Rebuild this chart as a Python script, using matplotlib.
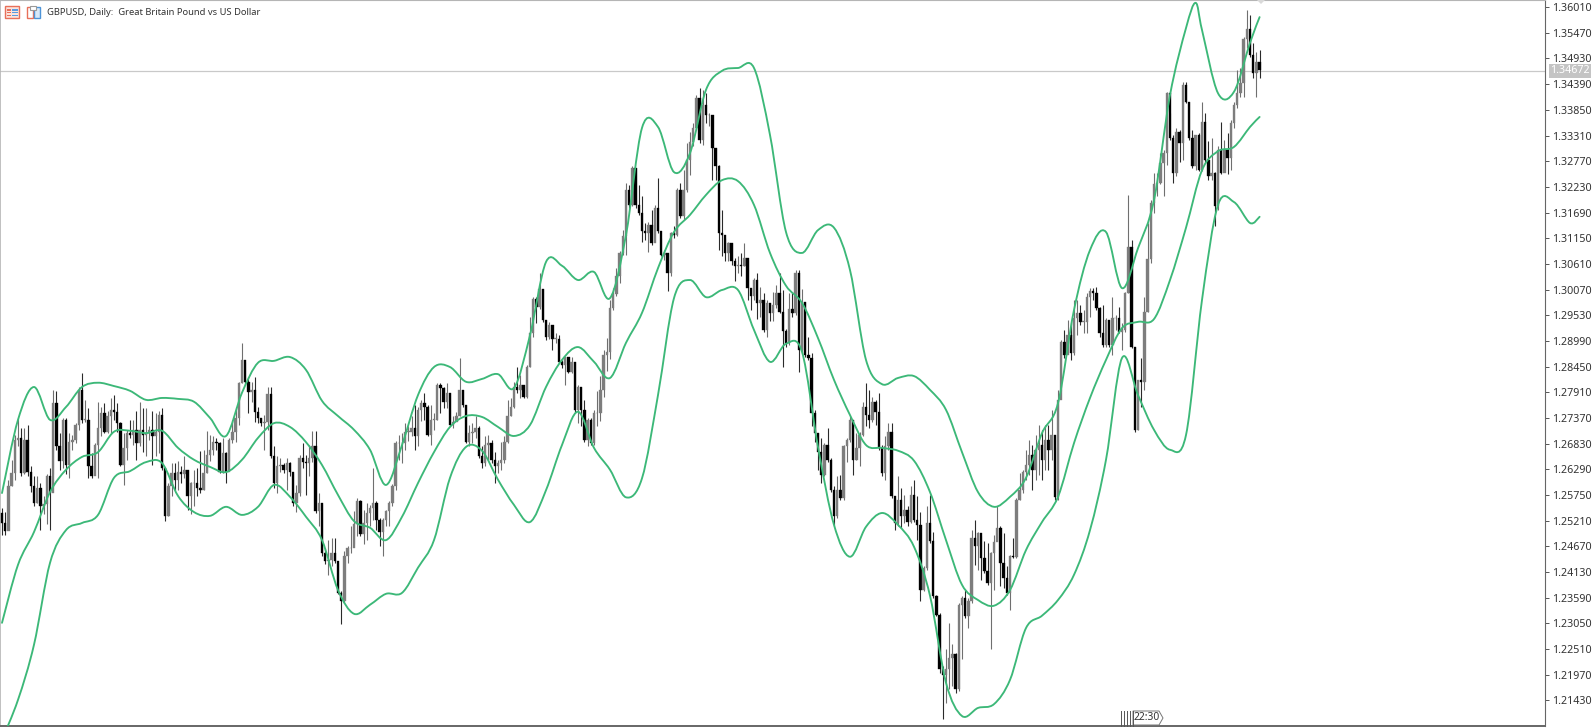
import matplotlib
matplotlib.use("Agg")
import matplotlib.pyplot as plt
from matplotlib.patches import Rectangle, Polygon, PathPatch
from matplotlib.path import Path

W, H = 1592, 728
title = "GBPUSD, Daily:  Great Britain Pound vs US Dollar"
last_price = 1.34672
tick_prices = [1.36010, 1.35470, 1.34930, 1.34390, 1.33850, 1.33310, 1.32770, 1.32230, 1.31690, 1.31150,
               1.30610, 1.30070, 1.29530, 1.28990, 1.28450, 1.27910, 1.27370, 1.26830, 1.26290, 1.25750,
               1.25210, 1.24670, 1.24130, 1.23590, 1.23050, 1.22510, 1.21970, 1.21430]

# values in 1/10000 price units, one per daily candle
closes = [12516,12499,12593,12621,12691,12695,12621,12691,12624,12593,12558,12590,12551,12555,12614,12579,12768,12677,12646,12733,
12638,12687,12691,12722,12796,12733,12733,12635,12614,12680,12716,12747,12708,12740,12754,12750,12726,12638,12673,12705,
12701,12712,12684,12712,12701,12705,12712,12698,12708,12743,12631,12530,12593,12621,12607,12624,12618,12628,12572,12600,
12600,12590,12586,12621,12660,12670,12687,12684,12624,12663,12624,12691,12708,12736,12810,12859,12813,12792,12796,12750,
12736,12726,12729,12788,12656,12600,12635,12639,12628,12642,12624,12558,12579,12652,12645,12642,12652,12677,12541,12558,
12453,12436,12439,12453,12436,12369,12352,12446,12463,12463,12513,12562,12492,12516,12537,12547,12558,12523,12498,12523,
12541,12558,12593,12684,12684,12684,12708,12708,12716,12698,12754,12768,12761,12701,12733,12733,12806,12799,12771,12789,
12722,12729,12740,12796,12764,12687,12705,12708,12715,12656,12642,12680,12684,12649,12635,12642,12649,12687,12740,12761,
12803,12796,12806,12782,12845,12915,12988,12971,13009,12943,12908,12932,12904,12904,12855,12848,12866,12834,12855,12754,
12803,12754,12691,12733,12684,12747,12747,12796,12869,12876,12968,12997,13035,13084,13119,13217,13185,13262,13185,13168,
13130,13126,13143,13105,13178,13130,13080,13084,13042,13126,13122,13217,13161,13217,13280,13318,13346,13409,13322,13395,
13374,13374,13304,13266,13126,13122,13084,13105,13066,13056,13059,13056,13073,13010,12993,13028,12979,12985,12922,12978,
12957,12974,12999,12960,12919,12894,12967,12957,13041,12880,12981,12870,12863,12747,12705,12666,12617,12680,12649,12586,
12530,12586,12568,12677,12691,12733,12649,12673,12701,12761,12743,12733,12771,12750,12673,12621,12677,12708,12572,12516,
12565,12530,12544,12519,12575,12523,12512,12376,12422,12516,12478,12362,12323,12208,12197,12208,12233,12240,12166,12344,
12358,12320,12351,12485,12467,12495,12442,12415,12390,12453,12477,12505,12432,12400,12369,12446,12445,12565,12586,12624,
12638,12659,12628,12670,12680,12649,12691,12670,12701,12571,12775,12897,12870,12912,12873,12947,12957,12939,12939,12992,
13003,12999,12968,12915,12890,12943,12890,12947,12947,12918,12922,12999,13097,12887,12712,12817,12813,12960,13072,13188,
13228,13231,13273,13294,13420,13325,13252,13339,13315,13438,13402,13325,13266,13332,13259,13360,13280,13245,13252,13182,
13301,13252,13301,13284,13357,13395,13420,13441,13535,13556,13500,13462,13486,13469]
highs = [12547,12540,12607,12649,12702,12736,12716,12716,12723,12635,12614,12614,12600,12572,12618,12632,12796,12793,12705,12736,
12736,12705,12702,12726,12803,12831,12775,12757,12663,12684,12771,12761,12768,12751,12778,12785,12768,12729,12705,12712,
12733,12733,12751,12771,12757,12757,12719,12751,12747,12751,12757,12631,12600,12642,12642,12646,12635,12656,12628,12603,
12628,12632,12667,12670,12709,12702,12698,12695,12687,12695,12666,12695,12733,12761,12813,12894,12855,12824,12813,12824,
12761,12736,12743,12803,12803,12677,12656,12652,12642,12652,12645,12621,12596,12660,12684,12660,12680,12709,12709,12579,
12555,12463,12481,12484,12484,12432,12373,12457,12467,12509,12541,12569,12565,12544,12558,12554,12632,12562,12526,12526,
12544,12562,12597,12688,12702,12705,12726,12719,12740,12765,12761,12775,12789,12764,12764,12747,12810,12810,12803,12810,
12789,12740,12750,12862,12796,12764,12722,12726,12740,12719,12677,12698,12701,12691,12666,12649,12687,12698,12775,12778,
12813,12845,12827,12806,12848,12950,12992,12992,13041,13009,12943,12939,12932,12915,12911,12859,12866,12866,12866,12855,
12806,12803,12775,12737,12737,12754,12793,12825,12880,12905,12985,13010,13052,13088,13133,13231,13227,13266,13262,13227,
13203,13147,13150,13175,13185,13241,13115,13091,13084,13129,13140,13220,13231,13259,13315,13339,13357,13416,13430,13427,
13420,13378,13374,13304,13270,13175,13115,13108,13105,13073,13077,13084,13105,13070,13010,13032,13042,13013,12999,12985,
12978,13002,13016,13041,13006,12925,12999,12999,13048,13048,13009,12981,12908,12873,12754,12705,12694,12684,12715,12652,
12593,12614,12617,12680,12694,12740,12722,12705,12708,12771,12810,12796,12782,12775,12789,12680,12698,12726,12726,12568,
12614,12589,12575,12551,12593,12607,12572,12540,12425,12551,12575,12498,12365,12327,12215,12250,12306,12261,12243,12348,
12362,12376,12358,12502,12523,12498,12488,12478,12474,12456,12491,12551,12509,12495,12425,12449,12484,12569,12621,12628,
12670,12691,12680,12701,12722,12712,12722,12722,12754,12676,12796,12901,12922,12943,12936,12985,12985,12974,12964,12999,
13010,13010,13013,12971,12975,12947,12943,12992,12954,12971,12936,13002,13206,13111,12887,12817,12862,12992,13146,13195,
13252,13252,13294,13301,13423,13378,13332,13346,13343,13444,13444,13402,13343,13332,13336,13402,13378,13319,13325,13255,
13308,13360,13322,13336,13364,13402,13469,13472,13539,13595,13584,13525,13507,13511]
lows = [12491,12491,12523,12593,12607,12677,12614,12618,12614,12582,12551,12558,12502,12534,12513,12502,12618,12670,12628,12631,
12618,12611,12670,12684,12712,12726,12729,12611,12611,12656,12611,12698,12705,12705,12705,12733,12708,12635,12596,12649,
12694,12680,12649,12677,12666,12656,12691,12638,12656,12663,12628,12520,12530,12572,12586,12586,12600,12611,12544,12534,
12551,12572,12579,12586,12621,12646,12660,12670,12621,12621,12600,12646,12684,12687,12722,12810,12806,12747,12771,12729,
12726,12719,12670,12712,12652,12589,12579,12624,12621,12586,12614,12551,12540,12572,12631,12575,12614,12645,12537,12509,
12446,12429,12407,12425,12432,12366,12303,12348,12432,12453,12471,12488,12488,12471,12481,12509,12523,12502,12467,12446,
12509,12509,12551,12586,12649,12642,12670,12688,12698,12670,12677,12730,12733,12698,12680,12712,12733,12747,12757,12757,
12719,12715,12733,12740,12761,12684,12677,12684,12694,12652,12631,12635,12649,12642,12600,12621,12628,12642,12684,12740,
12757,12789,12778,12778,12778,12845,12908,12936,12967,12939,12901,12904,12880,12894,12852,12841,12806,12831,12831,12747,
12726,12719,12687,12677,12680,12680,12719,12730,12780,12835,12860,12965,12993,13021,13080,13080,13178,13182,13178,13164,
13108,13112,13087,13101,13130,13126,13077,13070,13003,13035,13115,13119,13157,13154,13213,13248,13308,13343,13315,13311,
13357,13350,13238,13238,13091,13077,13066,13066,13059,13024,13042,13035,13056,12986,12965,12986,12944,12950,12918,12908,
12940,12940,12968,12957,12845,12887,12890,12950,12953,12834,12873,12866,12859,12719,12687,12628,12600,12614,12645,12582,
12509,12526,12565,12565,12645,12687,12617,12649,12635,12698,12719,12715,12729,12722,12670,12614,12607,12670,12568,12502,
12509,12505,12516,12509,12516,12519,12481,12352,12373,12418,12474,12358,12320,12201,12103,12138,12166,12173,12159,12162,
12229,12317,12295,12348,12428,12418,12397,12411,12386,12250,12376,12481,12383,12380,12365,12334,12442,12442,12565,12579,
12607,12617,12586,12607,12617,12607,12628,12628,12649,12564,12564,12793,12863,12873,12859,12870,12911,12932,12915,12915,
12950,12985,12964,12908,12887,12887,12887,12870,12922,12915,12880,12918,12999,12883,12708,12712,12761,12796,12960,13062,
13168,13203,13228,13203,13269,13322,13231,13245,13276,13280,13399,13322,13263,13259,13256,13256,13273,13238,13238,13140,
13175,13249,13259,13249,13259,13346,13388,13413,13413,13514,13497,13451,13413,13451]
first_open = 12537

upper_idx = list(range(0, 371, 5)) + [373] + list(range(375, 391, 5)) + [393]
upper = [12579,12733,12802,12733,12760,12802,12811,12804,12794,12775,12779,12777,12771,12737,12699,12790,12853,12857,12865,12838,
12773,12741,12712,12670,12596,12680,12785,12844,12844,12813,12819,12829,12800,12911,13065,13057,13027,13044,12989,13122,
13347,13349,13254,13294,13427,13467,13473,13473,13332,13128,13084,13132,13137,13048,12859,12808,12821,12825,12796,12754,
12665,12581,12550,12571,12611,12705,12768,12964,13090,13128,13010,13094,13195,13416,13557,13610,13553,13420,13423,13526,13580]
band_idx = list(range(0, 391, 5)) + [393]
middle = [12306,12428,12497,12581,12628,12655,12665,12708,12710,12705,12710,12674,12649,12634,12623,12649,12695,12726,12718,12686,
12638,12575,12520,12506,12480,12529,12600,12665,12718,12741,12739,12718,12699,12722,12802,12859,12886,12855,12821,12895,
12958,13052,13128,13164,13206,13237,13235,13185,13084,13015,12979,12905,12817,12743,12680,12674,12668,12647,12581,12480,
12386,12354,12342,12375,12459,12518,12571,12684,12779,12859,12926,12939,12945,13027,13137,13258,13298,13307,13349,13370]
lower = [12060,12144,12260,12432,12501,12516,12533,12611,12625,12644,12642,12573,12539,12531,12550,12533,12550,12596,12571,12529,
12480,12375,12325,12344,12367,12369,12422,12480,12611,12676,12668,12607,12554,12518,12585,12680,12750,12674,12628,12570,
12610,12785,12989,13027,12991,13006,13006,12922,12855,12893,12876,12676,12512,12445,12508,12537,12512,12466,12363,12180,
12110,12127,12135,12186,12295,12321,12354,12407,12501,12649,12863,12785,12712,12670,12701,12985,13185,13191,13147,13160]

UNIT = 1e-4
GREEN = "#3cb878"

plt.rcParams["font.family"] = ["Noto Sans", "DejaVu Sans"]
fig = plt.figure(figsize=(W / 100, H / 100), dpi=100, facecolor="white")
ax = fig.add_axes([0, 2 / H, 1545 / W, 726 / H])

ax.set_xlim(-0.625, (1545 - 2) / 3.2)
ax.set_ylim(1.2089, 1.3616)

opens = [first_open] + closes[:-1]
for i, c in enumerate(closes):
    o, h, l = opens[i], highs[i], lows[i]
    bull = c >= o
    wick = "#6f6f6f" if bull else "#2a2a2a"
    body = "#7d7d7d" if bull else "#000000"
    ax.vlines(i, l * UNIT, h * UNIT, color=wick, lw=0.8, zorder=2)
    ax.bar(i, max(abs(c - o), 1) * UNIT, bottom=min(o, c) * UNIT, width=0.8, color=body,
           edgecolor=body, lw=0.25, zorder=3)


def curve_through(xs, ys):
    verts = [(xs[0], ys[0])]
    codes = [Path.MOVETO]
    n = len(xs)
    for k in range(n - 1):
        x_prev, y_prev = (xs[k - 1], ys[k - 1]) if k > 0 else (xs[k], ys[k])
        x_next, y_next = (xs[k + 2], ys[k + 2]) if k + 2 < n else (xs[k + 1], ys[k + 1])
        verts += [(xs[k] + (xs[k + 1] - x_prev) / 6, ys[k] + (ys[k + 1] - y_prev) / 6),
                  (xs[k + 1] - (x_next - xs[k]) / 6, ys[k + 1] - (y_next - ys[k]) / 6),
                  (xs[k + 1], ys[k + 1])]
        codes += [Path.CURVE4] * 3
    return Path(verts, codes)


for idx, vals in ((upper_idx, upper), (band_idx, middle), (band_idx, lower)):
    ax.add_patch(PathPatch(curve_through(idx, [v * UNIT for v in vals]), fc="none", ec=GREEN, lw=1.35,
                           zorder=4, capstyle="round", joinstyle="round"))

ax.axhline(last_price, color="#c9c9c9", lw=0.9, zorder=1)

ax.set_xticks([])
ax.yaxis.tick_right()
ax.set_yticks(tick_prices)
ax.set_yticklabels([f"{p:.5f}" for p in tick_prices], fontsize=7.7, color="#333333")
ax.tick_params(axis="y", length=3, width=0.7, color="#555555", pad=2)
ax.spines["right"].set_color("#666666")
ax.spines["bottom"].set_color("#666666")
ax.spines["bottom"].set_linewidth(1.4)
ax.spines["top"].set_color("#b5b5b5")
ax.spines["left"].set_color("#b5b5b5")
ax.spines["left"].set_linewidth(1.2)

# last price flag on the axis
ax.annotate(f"{last_price:.5f}", xy=(1, last_price), xycoords=("axes fraction", "data"),
            xytext=(3.5, 0), textcoords="offset points", ha="left", va="center", fontsize=7.7,
            color="white", annotation_clip=False,
            bbox=dict(boxstyle="square,pad=0.12", fc="#c4c4c4", ec="none"))


def px(x, y):
    return x / W, 1 - y / H


def frect(x, y, w, h, **kw):
    fig.add_artist(Rectangle(px(x, y + h), w / W, h / H, transform=fig.transFigure, **kw))


# header icons
frect(5, 6, 14, 12, fc="#fbe3dc", ec="#e8705a", lw=1)
for yy in (9.5, 12, 14.5):
    frect(7, yy, 4, 1.2, fc="#e8705a", ec="none")
    frect(12.5, yy, 5, 1.2, fc="#5a9be0", ec="none")
frect(27, 7, 6, 11, fc="white", ec="#e8705a", lw=1)
frect(34, 7, 6, 11, fc="#d8e8f8", ec="#4d94d8", lw=1)
frect(30, 5.5, 6, 4, fc="white", ec="#999999", lw=0.8)
fig.text(47 / W, 1 - 12.5 / H, title, fontsize=6.75, color="#333333", ha="left", va="center")

# time marker at the bottom
for xx in (1121, 1124, 1127, 1130, 1133):
    fig.add_artist(plt.Line2D([xx / W, xx / W], [1 - 711 / H, 1 - 726 / H], color="#555555", lw=0.7))
fig.add_artist(Polygon([px(1133, 711), px(1159, 711), px(1163, 718), px(1159, 725), px(1133, 725)],
                       closed=True, fc="white", ec="#777777", lw=0.7, transform=fig.transFigure))
fig.text(1134 / W, 1 - 718 / H, "22:30", fontsize=7.4, color="#333333", ha="left", va="center")

# small grey mark above the last candle
fig.add_artist(Polygon([px(1257, 0), px(1265, 0), px(1261, 4)], closed=True, fc="#d9d9d9", ec="none",
                       transform=fig.transFigure))

fig.savefig("out.png", dpi=100, facecolor="white")
